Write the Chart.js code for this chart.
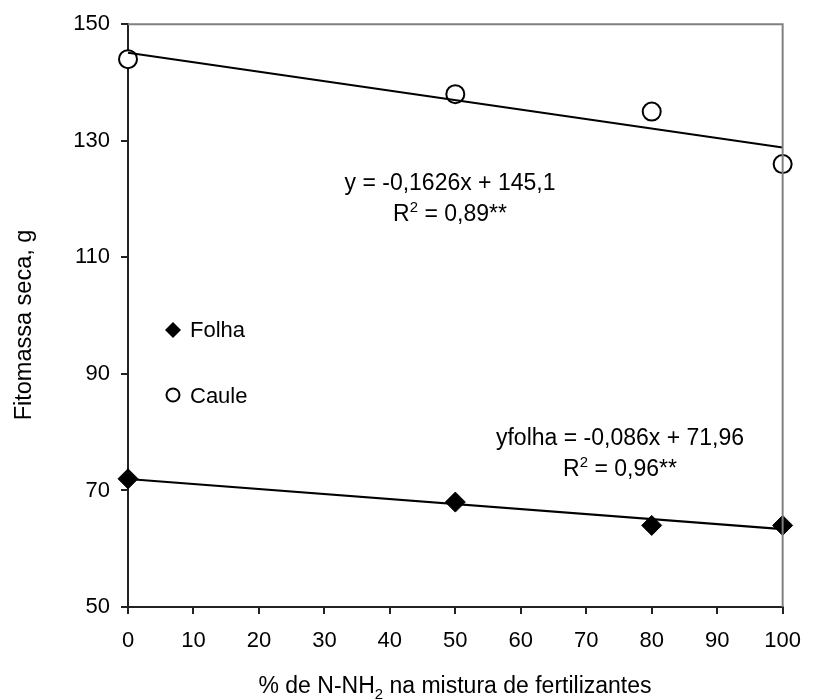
<!DOCTYPE html>
<html>
<head>
<meta charset="utf-8">
<script src="https://cdn.jsdelivr.net/npm/chart.js@4"></script>
<style>
  html, body { margin: 0; padding: 0; background: #fff; }
  #wrap { width: 815px; height: 700px; }
</style>
</head>
<body>
<div id="wrap"><canvas id="myChart" width="815" height="700"></canvas></div>
<script>
// dados
const doses = [0, 50, 80, 100];
const folha = [72, 68, 64, 64];
const caule = [144, 138, 135, 126];
// extremos das retas de regressão (x = 0 e x = 100)
const retaX = [0, 100];
const retaCaule = [145.1, 128.84];
const retaFolha = [71.96, 63.36];
const xTicks = [0, 10, 20, 30, 40, 50, 60, 70, 80, 90, 100];
const yTicks = [50, 70, 90, 110, 130, 150];

const fonte = '"Liberation Sans", Arial, sans-serif';

function pts(xs, ys) {
    return xs.map((x, i) => ({ x: x, y: ys[i] }));
}

// texto com subscrito / sobrescrito
function textoPartes(ctx, partes, x, y, tam, align) {
    let total = 0;
    partes.forEach(p => {
        ctx.font = (p.s ? tam * 0.65 : tam) + 'px ' + fonte;
        total += ctx.measureText(p.t).width;
    });
    let cx = align === 'center' ? x - total / 2 : x;
    ctx.textAlign = 'left';
    ctx.textBaseline = 'alphabetic';
    partes.forEach(p => {
        ctx.font = (p.s ? tam * 0.65 : tam) + 'px ' + fonte;
        let dy = p.s === 'sub' ? tam * 0.25 : (p.s === 'sup' ? -tam * 0.4 : 0);
        ctx.fillText(p.t, cx, y + dy);
        cx += ctx.measureText(p.t).width;
    });
}

const extras = {
    id: 'extras',
    afterDraw(chart) {
        const ctx = chart.ctx;
        const a = chart.chartArea;
        ctx.save();
        // moldura superior e direita
        ctx.strokeStyle = '#808080';
        ctx.lineWidth = 2;
        ctx.beginPath();
        ctx.moveTo(a.left, a.top);
        ctx.lineTo(a.right, a.top);
        ctx.lineTo(a.right, a.bottom);
        ctx.stroke();

        ctx.fillStyle = '#000';
        // equações
        textoPartes(ctx, [{ t: 'y = -0,1626x + 145,1' }], 450, 190, 23, 'center');
        textoPartes(ctx, [{ t: 'R' }, { t: '2', s: 'sup' }, { t: ' = 0,89**' }], 450, 221, 23, 'center');
        textoPartes(ctx, [{ t: 'yfolha = -0,086x + 71,96' }], 620, 445, 23, 'center');
        textoPartes(ctx, [{ t: 'R' }, { t: '2', s: 'sup' }, { t: ' = 0,96**' }], 620, 476, 23, 'center');

        // legenda
        ctx.beginPath();
        ctx.moveTo(173, 322); ctx.lineTo(181, 330); ctx.lineTo(173, 338); ctx.lineTo(165, 330);
        ctx.closePath();
        ctx.fill();
        ctx.beginPath();
        ctx.lineWidth = 2;
        ctx.strokeStyle = '#000';
        ctx.arc(173, 395, 6.5, 0, Math.PI * 2);
        ctx.stroke();
        textoPartes(ctx, [{ t: 'Folha' }], 190, 337, 22, 'left');
        textoPartes(ctx, [{ t: 'Caule' }], 190, 403, 22, 'left');

        // títulos dos eixos
        textoPartes(ctx, [{ t: '% de N-NH' }, { t: '2', s: 'sub' }, { t: ' na mistura de fertilizantes' }], 455, 693, 23, 'center');
        ctx.translate(31, 325);
        ctx.rotate(-Math.PI / 2);
        textoPartes(ctx, [{ t: 'Fitomassa seca, g' }], 0, 0, 23.5, 'center');
        ctx.restore();
    }
};

const ctx = document.getElementById('myChart').getContext('2d');
new Chart(ctx, {
    type: 'scatter',
    data: {
        datasets: [
            {
                label: 'Reta caule',
                data: pts(retaX, retaCaule),
                showLine: true,
                borderColor: '#000',
                borderWidth: 2.2,
                pointRadius: 0,
                clip: false
            },
            {
                label: 'Reta folha',
                data: pts(retaX, retaFolha),
                showLine: true,
                borderColor: '#000',
                borderWidth: 2.2,
                pointRadius: 0,
                clip: false
            },
            {
                label: 'Folha',
                data: pts(doses, folha),
                pointStyle: 'rectRot',
                pointRadius: 10,
                backgroundColor: '#000',
                borderColor: '#000',
                borderWidth: 1,
                clip: false
            },
            {
                label: 'Caule',
                data: pts(doses, caule),
                pointStyle: 'circle',
                pointRadius: 9,
                backgroundColor: '#fff',
                borderColor: '#000',
                borderWidth: 2,
                clip: false
            }
        ]
    },
    options: {
        responsive: false,
        animation: false,
        layout: { padding: { left: 0, right: 22, top: 22, bottom: 0 } },
        plugins: {
            legend: { display: false },
            tooltip: { enabled: false }
        },
        scales: {
            x: {
                type: 'linear',
                min: 0,
                max: 100,
                afterBuildTicks: s => { s.ticks = xTicks.map(v => ({ value: v })); },
                afterFit: s => { s.height = 93; },
                grid: { drawOnChartArea: false, tickLength: 7, color: '#222', lineWidth: 2 },
                border: { color: '#222', width: 2 },
                ticks: { color: '#000', font: { family: fonte, size: 22 }, padding: 14, maxRotation: 0 }
            },
            y: {
                min: 50,
                max: 150,
                afterBuildTicks: s => { s.ticks = yTicks.map(v => ({ value: v })); },
                afterFit: s => { s.width = 128; },
                grid: { drawOnChartArea: false, tickLength: 7, color: '#222', lineWidth: 2 },
                border: { color: '#222', width: 2 },
                ticks: { color: '#000', font: { family: fonte, size: 22 }, padding: 11 }
            }
        }
    },
    plugins: [extras]
});
</script>
</body>
</html>
